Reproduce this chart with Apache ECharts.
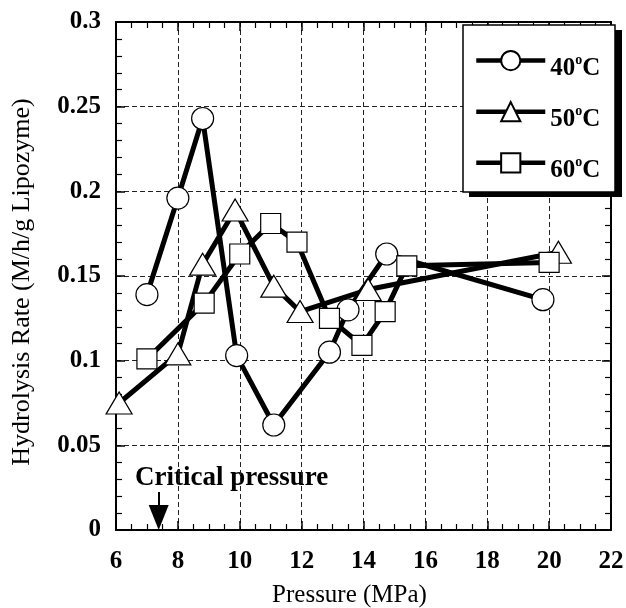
<!DOCTYPE html>
<html>
<head>
<meta charset="utf-8">
<script src="https://cdn.jsdelivr.net/npm/echarts@6/dist/echarts.min.js"></script>
<style>
html, body { margin: 0; padding: 0; background: #fff; }
#chart { width: 626px; height: 608px; }
</style>
</head>
<body>
<div id="chart"></div>
<script>
// axis ticks
var xTicks = [6, 8, 10, 12, 14, 16, 18, 20, 22];
var yTicks = [0, 0.05, 0.1, 0.15, 0.2, 0.25, 0.3];

// 40 C
var p40 = [7.0, 8.0, 8.8, 9.9, 11.1, 12.9, 13.5, 14.75, 19.8];
var r40 = [0.139, 0.196, 0.243, 0.103, 0.062, 0.105, 0.130, 0.163, 0.136];
// 50 C
var p50 = [6.1, 8.0, 8.8, 9.85, 11.1, 11.95, 14.15, 20.3];
var r50 = [0.075, 0.104, 0.157, 0.189, 0.144, 0.129, 0.142, 0.164];
// 60 C
var p60 = [7.0, 8.85, 10.0, 11.0, 11.85, 12.9, 13.95, 14.7, 15.4, 20.0];
var r60 = [0.101, 0.134, 0.163, 0.181, 0.170, 0.125, 0.109, 0.129, 0.156, 0.158];

var criticalPressure = 7.38;

var font = "Liberation Serif";
var black = "#000";

function pairs(xs, ys) {
  return xs.map(function (x, i) { return [x, ys[i]]; });
}

var gridLine = { show: true, lineStyle: { type: [5, 3], color: "#222", width: 1 } };

function xAxis(pos, labels) {
  return {
    type: "value",
    position: pos,
    min: xTicks[0],
    max: xTicks[xTicks.length - 1],
    interval: xTicks[1] - xTicks[0],
    name: labels ? "Pressure (MPa)" : "",
    nameLocation: "middle",
    nameGap: 53,
    nameTextStyle: { fontFamily: font, fontSize: 25, color: black, padding: [0, 28, 0, 0] },
    axisLine: { onZero: false, lineStyle: { color: black, width: 2 } },
    axisTick: { inside: true, length: 9, lineStyle: { color: black, width: 1.5 } },
    minorTick: { show: true, splitNumber: 4, length: 6, lineStyle: { color: black, width: 1.2 } },
    axisLabel: { show: labels, fontFamily: font, fontWeight: "bold", fontSize: 25, color: black, margin: 19 },
    splitLine: labels ? gridLine : { show: false }
  };
}

function yAxis(pos, labels) {
  return {
    type: "value",
    position: pos,
    min: yTicks[0],
    max: yTicks[yTicks.length - 1],
    interval: yTicks[1] - yTicks[0],
    name: labels ? "Hydrolysis Rate (M/h/g Lipozyme)" : "",
    nameLocation: "middle",
    nameGap: 81,
    nameTextStyle: { fontFamily: font, fontSize: 26, color: black, padding: [0, 12, 0, 0] },
    axisLine: { onZero: false, lineStyle: { color: black, width: 2 } },
    axisTick: { inside: true, length: 9, lineStyle: { color: black, width: 1.5 } },
    minorTick: { show: true, splitNumber: 5, length: 6, lineStyle: { color: black, width: 1.2 } },
    axisLabel: { show: labels, fontFamily: font, fontWeight: "bold", fontSize: 25, color: black, margin: 15 },
    splitLine: labels ? gridLine : { show: false }
  };
}

function line(name, data, symbol, size) {
  return {
    name: name,
    type: "line",
    data: data,
    symbol: symbol,
    symbolSize: size,
    showAllSymbol: true,
    lineStyle: { color: black, width: 5 },
    itemStyle: { color: "#fff", borderColor: black, borderWidth: 1.2 },
    z: 3
  };
}

var s40 = line("40", pairs(p40, r40), "circle", 22);
s40.markLine = {
  silent: true,
  symbol: ["none", "triangle"],
  symbolSize: [20, 25],
  label: { show: false },
  lineStyle: { type: "solid", color: black, width: 2 },
  data: [[{ coord: [criticalPressure, 0.0225] }, { coord: [criticalPressure, 0.0074] }]]
};

var chart = echarts.init(document.getElementById("chart"));
chart.setOption({
  animation: false,
  backgroundColor: "#fff",
  grid: { left: 116, right: 15, top: 22, bottom: 78, outerBoundsMode: "none" },
  xAxis: [xAxis("bottom", true), xAxis("top", false)],
  yAxis: [yAxis("left", true), yAxis("right", false)],
  legend: {
    orient: "vertical",
    left: 463,
    top: 29,
    z: 6,
    padding: [21, 12, 21, 11],
    itemWidth: 69,
    itemHeight: 24,
    itemGap: 20,
    lineStyle: { width: 4.5 },
    formatter: function (n) { return "{a|" + n + "}{s|o}{a|C}"; },
    textStyle: {
      rich: {
        a: { fontFamily: font, fontWeight: "bold", fontSize: 25, color: black, padding: [16, 0, 0, 0] },
        s: { fontFamily: font, fontWeight: "bold", fontSize: 14, color: black }
      }
    },
    data: ["40", "50", "60"]
  },
  graphic: [
    // legend frame with drop shadow
    { type: "rect", z: 3, shape: { x: 469, y: 30, width: 153, height: 167 }, style: { fill: black } },
    { type: "rect", z: 3, shape: { x: 463, y: 25, width: 152, height: 167 }, style: { fill: "#fff", stroke: black, lineWidth: 1.5 } },
    {
      type: "text",
      left: 135,
      top: 465,
      style: { text: "Critical pressure", fontFamily: font, fontWeight: "bold", fontSize: 27, fill: black }
    }
  ],
  series: [
    s40,
    line("50", pairs(p50, r50), "triangle", [26, 22]),
    line("60", pairs(p60, r60), "rect", 20)
  ]
});
</script>
</body>
</html>
